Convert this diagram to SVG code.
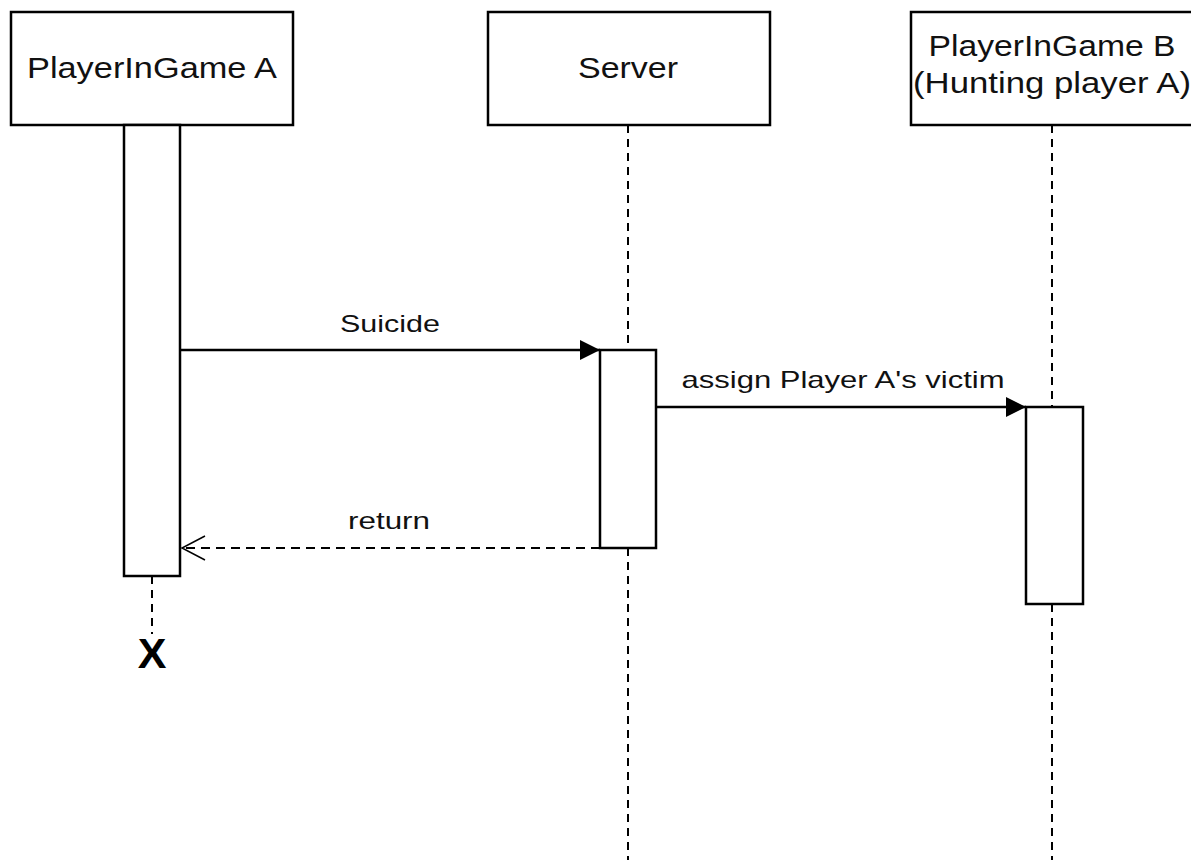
<svg xmlns="http://www.w3.org/2000/svg" width="1191" height="860" viewBox="0 0 1191 860">
<style>
.box{fill:#fff;stroke:#000;stroke-width:2.5}
.life{stroke:#000;stroke-width:2;stroke-dasharray:8,6;fill:none}
.msg{stroke:#000;stroke-width:2.5;fill:none}
.ret{stroke:#000;stroke-width:2;stroke-dasharray:9,6;fill:none}
.t{font-family:"Liberation Sans",Arial,sans-serif;font-size:29px;fill:#111}
.m{font-family:"Liberation Sans",Arial,sans-serif;font-size:24px;fill:#111}
</style>
<defs>
<marker id="filled" markerWidth="20" markerHeight="20" refX="20" refY="10" orient="auto" markerUnits="userSpaceOnUse">
<path d="M0,0 L20,10 L0,20 Z" fill="#000"/>
</marker>
<marker id="open" markerWidth="26" markerHeight="26" refX="24" refY="13" orient="auto" markerUnits="userSpaceOnUse">
<path d="M1,1 L24,13 L1,25" fill="none" stroke="#000" stroke-width="1.5"/>
</marker>
</defs>
<rect width="1191" height="860" fill="#fff"/>
<g id="lifelines">
<line class="life" x1="152" y1="576" x2="152" y2="634"/>
<line class="life" x1="628" y1="125" x2="628" y2="350"/>
<line class="life" x1="628" y1="548" x2="628" y2="860"/>
<line class="life" x1="1052" y1="125" x2="1052" y2="407"/>
<line class="life" x1="1052" y1="604" x2="1052" y2="860"/>
</g>
<g id="playerA">
<rect class="box" x="11" y="12" width="282" height="113"/>
<text class="t" x="152" y="78" text-anchor="middle" textLength="250" lengthAdjust="spacingAndGlyphs">PlayerInGame A</text>
<rect class="box" x="124" y="125" width="56" height="451"/>
<text x="152" y="668" text-anchor="middle" font-family="Liberation Sans,Arial,sans-serif" font-size="43" font-weight="bold" fill="#000">X</text>
</g>
<g id="server">
<rect class="box" x="488" y="12" width="282" height="113"/>
<text class="t" x="628" y="78" text-anchor="middle" textLength="100" lengthAdjust="spacingAndGlyphs">Server</text>
<rect class="box" x="600" y="350" width="56" height="198"/>
</g>
<g id="playerB">
<rect class="box" x="911" y="12" width="290" height="113"/>
<text class="t" x="1052" y="56" text-anchor="middle" textLength="247" lengthAdjust="spacingAndGlyphs">PlayerInGame B</text>
<text class="t" x="1052" y="93" text-anchor="middle" textLength="278" lengthAdjust="spacingAndGlyphs">(Hunting player A)</text>
<rect class="box" x="1026" y="407" width="57" height="197"/>
</g>
<g id="connectors">
<line class="msg" x1="180" y1="350" x2="600" y2="350" marker-end="url(#filled)"/>
<text class="m" x="390" y="332" text-anchor="middle" textLength="100" lengthAdjust="spacingAndGlyphs">Suicide</text>
<line class="msg" x1="656" y1="407" x2="1026" y2="407" marker-end="url(#filled)"/>
<text class="m" x="843" y="388" text-anchor="middle" textLength="323" lengthAdjust="spacingAndGlyphs">assign Player A's victim</text>
<line class="ret" x1="600" y1="548" x2="182" y2="548" marker-end="url(#open)"/>
<text class="m" x="389" y="529" text-anchor="middle" textLength="82" lengthAdjust="spacingAndGlyphs">return</text>
</g>
</svg>
